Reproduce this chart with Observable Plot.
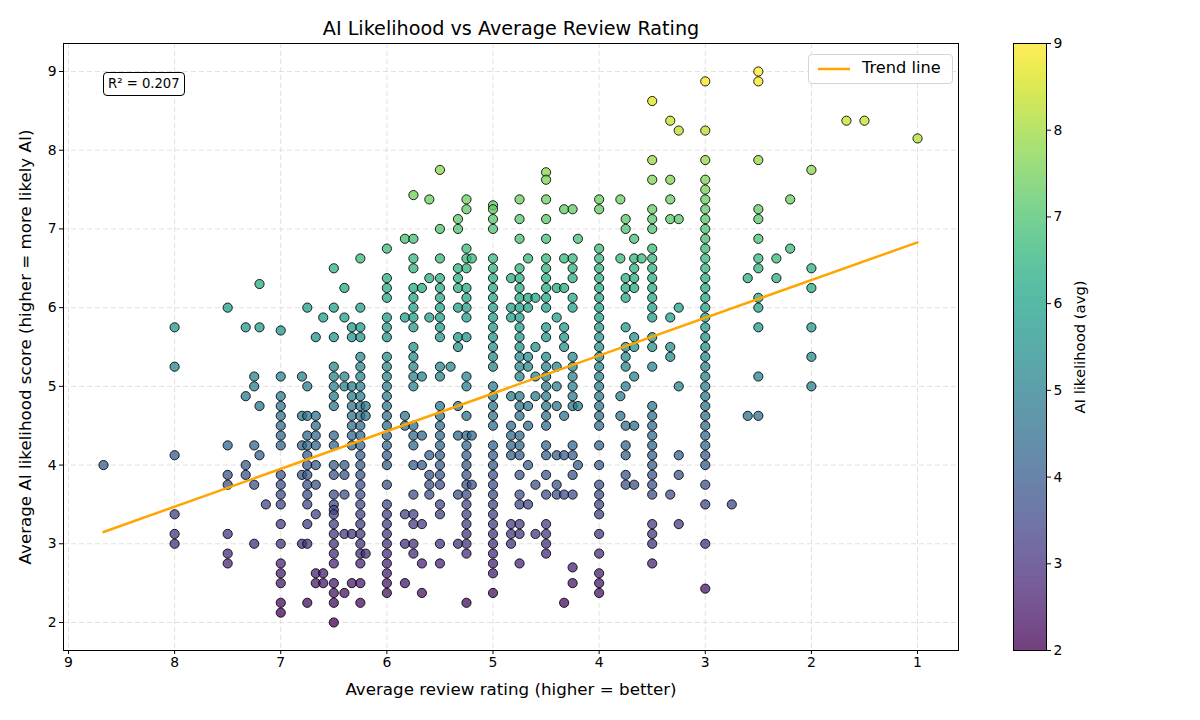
<!DOCTYPE html>
<html>
<head>
<meta charset="utf-8">
<script src="https://cdn.jsdelivr.net/npm/d3@7"></script>
<script src="https://cdn.jsdelivr.net/npm/@observablehq/plot@0.6"></script>
<style>
  body { margin: 0; background: #fff; font-family: "DejaVu Sans", sans-serif; }
  #wrap { position: relative; width: 1200px; height: 720px; overflow: hidden; background: #fff; }
  #main { position: absolute; left: 0; top: 0; }
  #cbar { position: absolute; left: 1000px; top: 0; }
  #r2 { position: absolute; left: 103px; top: 72px; padding: 3px 4px; border: 1px solid #000; border-radius: 4px;
        background: rgba(255,255,255,0.9); font-size: 13.2px; line-height: 16px; color: #000; white-space: nowrap; }
  #legend { position: absolute; left: 808px; top: 54px; width: 143px; height: 28px; border: 1px solid #d5d5d5; border-radius: 4px;
        background: rgba(255,255,255,0.85); font-size: 16.2px; color: #000; white-space: nowrap; }
  #legend svg { position: absolute; left: 9px; top: 9px; }
  #legend span { position: absolute; left: 53px; top: 3px; }
</style>
</head>
<body>
<div id="wrap">
  <div id="main"></div>
  <div id="cbar"></div>
  <div id="r2"></div>
  <div id="legend"><svg width="34" height="10"><line x1="0" y1="5" x2="32" y2="5" stroke="orange" stroke-width="2.5"/></svg><span></span></div>
</div>
<script>
// ---------- data ----------
const titleText = "AI Likelihood vs Average Review Rating";
const xLabelText = "Average review rating (higher = better)";
const yLabelText = "Average AI likelihood score (higher = more likely AI)";
const colorLabelText = "AI likelihood (avg)";
const legendText = "Trend line";
const r2Text = "R² = 0.207";

const xTicks = [9, 8, 7, 6, 5, 4, 3, 2, 1];
const yTicks = [2, 3, 4, 5, 6, 7, 8, 9];
const colorTicks = [2, 3, 4, 5, 6, 7, 8, 9];

// review-rating columns and the AI-likelihood scores found in each column
const ratings = [8.67, 8, 7.5, 7.33, 7.25, 7.2, 7.14, 7, 6.8, 6.75, 6.67, 6.6, 6.5, 6.4, 6.33, 6.25, 6.2, 6,
  5.83, 5.75, 5.67, 5.6, 5.5, 5.4, 5.33, 5.25, 5.2, 5, 4.83, 4.75, 4.67, 4.6, 4.5, 4.4, 4.33, 4.25, 4.2, 4,
  3.8, 3.75, 3.67, 3.6, 3.5, 3.33, 3.25, 3, 2.75, 2.6, 2.5, 2.33, 2.2, 2, 1.67, 1.5, 1];

const scores = [
  [4.0],
  [5.75, 5.25, 4.125, 3.375, 3.125, 3.0],
  [6.0, 4.25, 3.875, 3.75, 3.125, 2.875, 2.75],
  [5.75, 4.875, 4.0, 3.875],
  [5.125, 5.0, 4.25, 3.75, 3.0],
  [6.3, 5.75, 4.75, 4.125],
  [3.5],
  [5.71, 5.125, 4.875, 4.75, 4.625, 4.5, 4.375, 4.25, 3.875, 3.75, 3.625, 3.5, 3.25, 3.0, 2.75, 2.625, 2.5, 2.25, 2.125],
  [5.125, 4.625, 4.25, 3.875, 3.0],
  [6.0, 5.0, 4.625, 4.375, 4.25, 4.125, 4.0, 3.875, 3.75, 3.625, 3.5, 3.25, 3.0, 2.25],
  [5.625, 4.625, 4.5, 4.375, 4.25, 4.0, 3.75, 3.375, 2.625, 2.5],
  [5.875, 2.625, 2.5],
  [6.5, 6.0, 5.625, 5.25, 5.125, 5.0, 4.875, 4.75, 4.375, 4.25, 4.0, 3.875, 3.625, 3.5, 3.43, 3.375, 3.25, 3.125, 3.0, 2.875, 2.75, 2.5, 2.375, 2.25, 2.0],
  [6.25, 5.875, 5.125, 5.0, 4.0, 3.875, 3.625, 3.125, 2.375],
  [5.75, 5.625, 5.0, 4.875, 4.75, 4.625, 4.5, 4.375, 4.25, 3.125, 2.5],
  [6.625, 6.0, 5.75, 5.625, 5.375, 5.25, 5.125, 5.0, 4.875, 4.75, 4.625, 4.5, 4.375, 4.25, 4.125, 4.0, 3.875, 3.75, 3.625, 3.5, 3.375, 3.25, 3.125, 3.0, 2.875, 2.75, 2.5, 2.25],
  [4.75, 4.625, 2.875],
  [6.75, 6.375, 6.25, 6.125, 5.875, 5.75, 5.625, 5.375, 5.25, 5.125, 5.0, 4.875, 4.75, 4.625, 4.5, 4.375, 4.25, 4.125, 4.0, 3.75, 3.5, 3.375, 3.25, 3.125, 3.0, 2.875, 2.75, 2.625, 2.5, 2.375],
  [6.875, 5.875, 4.625, 4.5, 3.375, 3.0, 2.5],
  [7.43, 6.875, 6.625, 6.5, 6.25, 6.125, 6.0, 5.875, 5.75, 5.5, 5.375, 5.25, 5.125, 5.0, 4.5, 4.375, 4.25, 4.0, 3.625, 3.375, 3.25, 3.0, 2.875],
  [6.25, 5.125, 4.375, 4.0, 3.25, 2.75, 2.375],
  [7.375, 6.375, 5.875, 4.125, 3.875, 3.75, 3.625],
  [7.75, 7.0, 6.625, 6.375, 6.25, 6.125, 6.0, 5.875, 5.75, 5.625, 5.25, 5.125, 4.75, 4.625, 4.5, 4.375, 4.25, 4.125, 4.0, 3.875, 3.75, 3.5, 3.375, 3.0, 2.75],
  [5.25],
  [7.125, 7.0, 6.5, 6.375, 6.25, 6.0, 5.625, 5.5, 4.75, 4.375, 3.625, 3.0],
  [7.375, 7.25, 6.75, 6.625, 6.5, 6.25, 6.125, 6.0, 5.875, 5.625, 5.125, 5.0, 4.625, 4.375, 4.25, 4.125, 4.0, 3.875, 3.75, 3.625, 3.5, 3.375, 3.25, 3.125, 3.0, 2.875, 2.25],
  [6.625, 4.375, 3.75],
  [7.3, 7.25, 7.125, 7.0, 6.625, 6.5, 6.375, 6.25, 6.125, 6.0, 5.875, 5.75, 5.625, 5.5, 5.375, 5.25, 5.0, 4.875, 4.75, 4.625, 4.5, 4.25, 4.125, 4.0, 3.875, 3.75, 3.625, 3.5, 3.375, 3.25, 3.125, 3.0, 2.875, 2.75, 2.625, 2.375],
  [6.375, 6.0, 5.875, 4.875, 4.5, 4.375, 4.25, 4.125, 3.25, 3.125, 3.0],
  [7.375, 7.125, 6.875, 6.5, 6.375, 6.25, 6.125, 6.0, 5.875, 5.75, 5.625, 5.5, 5.375, 5.25, 5.125, 4.875, 4.75, 4.625, 4.375, 4.25, 4.125, 3.875, 3.625, 3.5, 3.25, 3.125, 2.75],
  [6.625, 6.125, 6.0, 5.375, 5.25, 4.75, 4.5, 4.0, 3.5],
  [6.125, 5.5, 5.125, 4.875, 3.75, 3.125],
  [7.72, 7.625, 7.375, 7.125, 6.875, 6.625, 6.5, 6.375, 6.25, 6.125, 6.0, 5.75, 5.625, 5.375, 5.25, 5.125, 5.0, 4.875, 4.75, 4.625, 4.5, 4.25, 4.125, 3.875, 3.625, 3.25, 3.125, 3.0, 2.875],
  [6.25, 5.875, 5.25, 5.0, 4.75, 4.125, 3.75, 3.625],
  [7.25, 6.625, 6.25, 5.75, 5.625, 5.5, 4.625, 4.125, 3.625, 2.25],
  [7.25, 6.625, 6.5, 6.375, 6.125, 6.0, 5.375, 5.25, 5.125, 5.0, 4.875, 4.75, 4.25, 4.125, 3.875, 3.625, 2.7, 2.5],
  [6.875, 4.75, 4.0],
  [7.375, 7.25, 6.75, 6.625, 6.5, 6.375, 6.25, 6.125, 6.0, 5.875, 5.75, 5.625, 5.5, 5.375, 5.25, 5.125, 5.0, 4.875, 4.75, 4.625, 4.5, 4.25, 4.0, 3.75, 3.625, 3.5, 3.375, 3.125, 2.875, 2.625, 2.5, 2.375],
  [7.375, 6.625, 4.875, 4.625],
  [7.125, 7.0, 6.375, 6.25, 6.125, 5.75, 5.5, 5.375, 5.25, 5.0, 4.5, 4.25, 4.125, 3.875, 3.75],
  [6.875, 6.625, 6.5, 6.375, 6.25, 5.625, 5.5, 5.125, 4.5, 3.75],
  [6.625],
  [8.625, 7.875, 7.625, 7.25, 7.125, 7.0, 6.75, 6.625, 6.5, 6.375, 6.25, 6.125, 6.0, 5.875, 5.625, 5.5, 5.25, 4.75, 4.625, 4.5, 4.375, 4.25, 4.125, 4.0, 3.875, 3.75, 3.625, 3.25, 3.125, 3.0, 2.75],
  [8.375, 7.625, 7.375, 7.125, 5.875, 5.5, 5.375, 3.625],
  [8.25, 7.125, 6.0, 5.0, 4.125, 3.875, 3.25],
  [8.875, 8.25, 7.875, 7.625, 7.5, 7.375, 7.25, 7.125, 7.0, 6.875, 6.75, 6.625, 6.5, 6.375, 6.25, 6.125, 6.0, 5.875, 5.75, 5.625, 5.5, 5.375, 5.25, 5.125, 5.0, 4.875, 4.75, 4.625, 4.5, 4.375, 4.25, 4.125, 4.0, 3.75, 3.5, 3.0, 2.43],
  [3.5],
  [6.375, 4.625],
  [9.0, 8.875, 7.875, 7.25, 7.125, 6.875, 6.625, 6.5, 6.125, 6.0, 5.75, 5.125, 4.625],
  [6.625, 6.375],
  [7.375, 6.75],
  [7.75, 6.5, 6.25, 5.75, 5.375, 5.0],
  [8.375],
  [8.375],
  [8.15]
];

// trend line end points as drawn
const trendRating = [8.67, 1.0];
const trendScore = [3.15, 6.83];

// ---------- build ----------
const points = ratings.flatMap((r, i) => scores[i].map(s => ({rating: r, score: s})));
const trend = trendRating.map((r, i) => ({rating: r, score: trendScore[i]}));
const font = "DejaVu Sans, sans-serif";
const colorScale = {type: "linear", scheme: "viridis", domain: [2, 9]};

const main = Plot.plot({
  width: 1000, height: 720,
  marginTop: 43, marginBottom: 70, marginLeft: 63, marginRight: 42,
  style: {fontFamily: font, fontSize: "13.9px", background: "white", color: "black", overflow: "visible"},
  x: {domain: [9.047, 0.614]},
  y: {domain: [1.644, 9.356]},
  color: colorScale,
  marks: [
    Plot.gridX(xTicks, {stroke: "#d9d9d9", strokeOpacity: 1, strokeWidth: 0.8, strokeDasharray: "5,3"}),
    Plot.gridY(yTicks, {stroke: "#d9d9d9", strokeOpacity: 1, strokeWidth: 0.8, strokeDasharray: "5,3"}),
    Plot.dot(points, {x: "rating", y: "score", fill: "score", r: 4.6, fillOpacity: 0.75,
      stroke: "black", strokeOpacity: 0.85, strokeWidth: 1}),
    Plot.line(trend, {x: "rating", y: "score", stroke: "orange", strokeWidth: 2.5}),
    Plot.frame({stroke: "black", strokeWidth: 1}),
    Plot.axisX(xTicks, {tickSize: 4, tickPadding: 3, label: null, tickFormat: d3.format("d"), fontSize: 13.9}),
    Plot.axisY(yTicks, {tickSize: 4, tickPadding: 3, label: null, tickFormat: d3.format("d"), fontSize: 13.9}),
    Plot.text([titleText], {frameAnchor: "top", dy: -9, fontSize: 19.2, lineAnchor: "bottom", fill: "black"}),
    Plot.text([xLabelText], {frameAnchor: "bottom", dy: 33, fontSize: 16.7, lineAnchor: "top", fill: "black"}),
    Plot.text([yLabelText], {frameAnchor: "left", dx: -38, rotate: -90, textAnchor: "middle", fontSize: 16.7, fill: "black"})
  ]
});
document.getElementById("main").appendChild(main);

const cbSteps = d3.range(0, 607).map(i => 2 + i * 7 / 607);
const cbar = Plot.plot({
  width: 200, height: 720,
  marginTop: 43, marginBottom: 70, marginLeft: 13, marginRight: 154,
  style: {fontFamily: font, fontSize: "13.9px", background: "white", color: "black", overflow: "visible"},
  x: {domain: [0, 1], axis: null},
  y: {domain: [2, 9]},
  color: colorScale,
  marks: [
    Plot.rect(cbSteps, {x1: 0, x2: 1, y1: d => d, y2: d => d + 7 / 607, fill: d => d, fillOpacity: 0.75, shapeRendering: "crispEdges"}),
    Plot.frame({stroke: "black", strokeWidth: 1}),
    Plot.axisY(colorTicks, {anchor: "right", tickSize: 4, tickPadding: 3, label: null, tickFormat: d3.format("d"), fontSize: 13.9}),
    Plot.text([colorLabelText], {frameAnchor: "right", dx: 34, rotate: -90, textAnchor: "middle", fontSize: 14.8, fill: "black"})
  ]
});
document.getElementById("cbar").appendChild(cbar);

document.getElementById("r2").textContent = r2Text;
document.querySelector("#legend span").textContent = legendText;
</script>
</body>
</html>
